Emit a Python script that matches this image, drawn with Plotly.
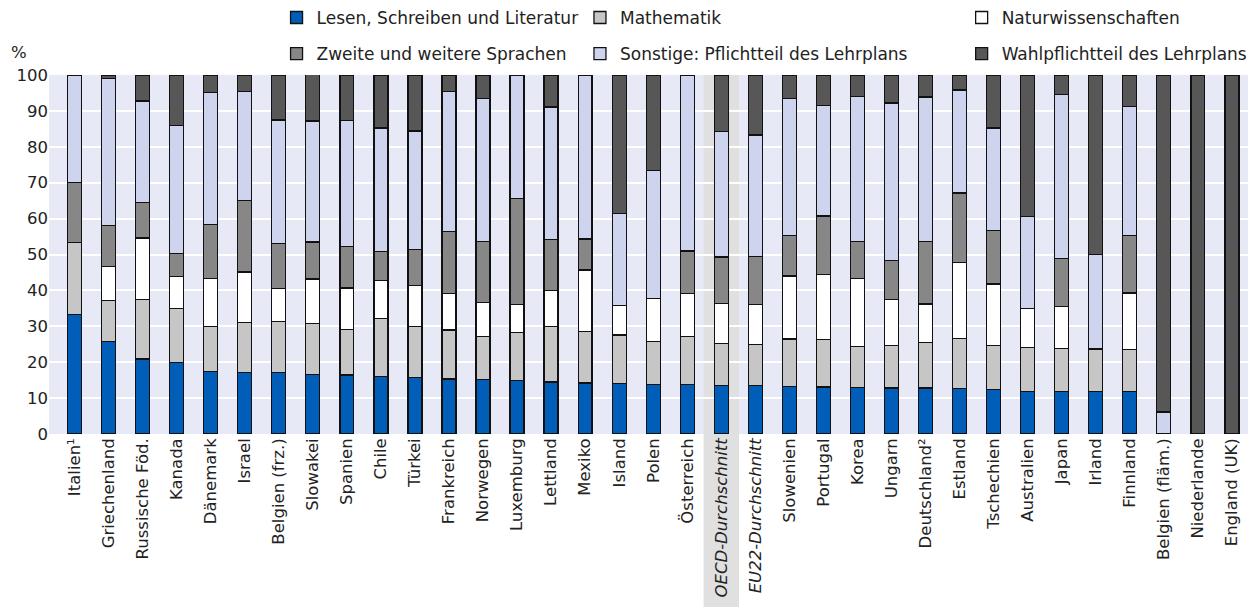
import plotly.graph_objects as go

categories = ["Italien¹", "Griechenland", "Russische Föd.", "Kanada", "Dänemark", "Israel",
              "Belgien (frz.)", "Slowakei", "Spanien", "Chile", "Türkei", "Frankreich",
              "Norwegen", "Luxemburg", "Lettland", "Mexiko", "Island", "Polen", "Österreich",
              "OECD-Durchschnitt", "EU22-Durchschnitt", "Slowenien", "Portugal", "Korea",
              "Ungarn", "Deutschland²", "Estland", "Tschechien", "Australien", "Japan",
              "Irland", "Finnland", "Belgien (fläm.)", "Niederlande", "England (UK)"]

lesen = [33.2, 25.7, 20.9, 19.9, 17.4, 17.1, 17.1, 16.5, 16.4, 16.0, 15.7, 15.3, 15.1, 14.9,
         14.5, 14.2, 14.1, 13.8, 13.7, 13.5, 13.5, 13.2, 13.1, 13.0, 12.8, 12.8, 12.6, 12.3,
         11.9, 11.9, 11.8, 11.8, 0, 0, 0]
mathematik = [20.1, 11.4, 16.6, 15.1, 12.6, 13.9, 14.2, 14.3, 12.7, 16.1, 14.2, 13.7, 12.0,
              13.3, 15.5, 14.3, 13.5, 12.0, 13.4, 11.7, 11.4, 13.3, 13.3, 11.4, 11.8, 12.6,
              14.0, 12.3, 12.1, 11.9, 11.9, 11.7, 0, 0, 0]
natur = [0, 9.5, 17.1, 8.8, 13.3, 14.1, 9.2, 12.4, 11.6, 10.6, 11.4, 10.1, 9.5, 7.8, 10.0,
         17.2, 8.1, 12.0, 12.1, 11.2, 11.2, 17.5, 18.0, 18.9, 12.9, 10.8, 21.2, 17.2, 10.9,
         11.8, 0, 15.8, 0, 0, 0]
sprachen = [16.7, 11.5, 9.9, 6.4, 15.0, 19.9, 12.6, 10.3, 11.6, 8.2, 10.0, 17.3, 17.0, 29.6,
            14.1, 8.6, 0, 0, 11.8, 12.9, 13.4, 11.2, 16.3, 10.3, 10.8, 17.4, 19.3, 14.8, 0,
            13.2, 0, 15.9, 0, 0, 0]
sonstige = [30.0, 40.9, 28.3, 35.8, 36.8, 30.4, 34.4, 33.7, 35.0, 34.3, 33.1, 39.0, 39.9, 34.4,
            37.0, 45.7, 25.7, 35.6, 49.0, 34.9, 33.8, 38.2, 30.9, 40.4, 43.9, 40.3, 28.7, 28.6,
            25.7, 45.8, 26.3, 36.0, 6.1, 0, 0]
wahl = [0, 1.0, 7.2, 14.0, 4.9, 4.6, 12.5, 12.9, 12.7, 14.8, 15.6, 4.6, 6.5, 0, 8.9, 0, 38.6,
        26.6, 0, 15.8, 16.7, 6.6, 8.4, 6.0, 7.8, 6.1, 4.2, 14.8, 39.4, 5.4, 50.0, 8.8, 93.9,
        100, 100]

series_names = ["Lesen, Schreiben und Literatur", "Mathematik", "Naturwissenschaften",
                "Zweite und weitere Sprachen", "Sonstige: Pflichtteil des Lehrplans",
                "Wahlpflichtteil des Lehrplans"]
series_values = [lesen, mathematik, natur, sprachen, sonstige, wahl]
colors = ["#005EB8", "#C5C6C5", "#FFFFFF", "#878787", "#CFD4EE", "#575757"]
legends = ["legend", "legend2", "legend3", "legend", "legend2", "legend3"]
y_ticks = list(range(0, 101, 10))

highlight = "OECD-Durchschnitt"
italic_cats = {"OECD-Durchschnitt", "EU22-Durchschnitt"}
tick_text = [f"<i>{c}</i>" if c in italic_cats else c for c in categories]

FONT = "DejaVu Sans"

fig = go.Figure()
for i, (name, vals, col, lg) in enumerate(zip(series_names, series_values, colors, legends)):
    fig.add_trace(go.Bar(
        x=categories, y=vals, name=name, legend=lg, legendgroup=f"g{i}",
        marker=dict(color=col, line=dict(color="#111111", width=1.3)),
        width=0.41,
    ))

idx = categories.index(highlight)
fig.add_shape(type="rect", xref="x", yref="paper",
              x0=idx - 0.52, x1=idx + 0.52, y0=-0.5, y1=1,
              fillcolor="#E0E0E0", line=dict(width=0), layer="below")

fig.add_annotation(text="%", xref="paper", yref="paper", x=-0.025, y=1.062,
                   showarrow=False, xanchor="center", yanchor="middle",
                   font=dict(family=FONT, size=16.5, color="#222"))

leg_common = dict(orientation="v", traceorder="grouped", bgcolor="rgba(0,0,0,0)",
                  font=dict(family=FONT, size=17, color="#222"),
                  yref="paper", yanchor="top", xanchor="left", y=1.209,
                  tracegroupgap=11, itemclick=False, itemdoubleclick=False)

fig.update_layout(
    width=1248, height=599,
    margin=dict(l=41, r=3, t=67, b=173, autoexpand=False),
    barmode="stack",
    plot_bgcolor="#E7E9F6",
    paper_bgcolor="#FFFFFF",
    font=dict(family=FONT, size=16.5, color="#222"),
    xaxis=dict(tickmode="array", tickvals=categories, ticktext=tick_text,
               tickangle=-90, range=[-0.75, 34.62], showgrid=False, automargin=False,
               ticks="", showline=False, tickfont=dict(family=FONT, size=16.5, color="#222")),
    yaxis=dict(range=[0, 100], tickvals=y_ticks, showgrid=True, gridcolor="#FFFFFF",
               gridwidth=1.5, zeroline=False, showline=False, automargin=False,
               tickfont=dict(family=FONT, size=16.5, color="#222")),
    legend=dict(x=0.189, **leg_common),
    legend2=dict(x=0.441, **leg_common),
    legend3=dict(x=0.758, **leg_common),
    showlegend=True,
)

fig.write_html("out.html")
